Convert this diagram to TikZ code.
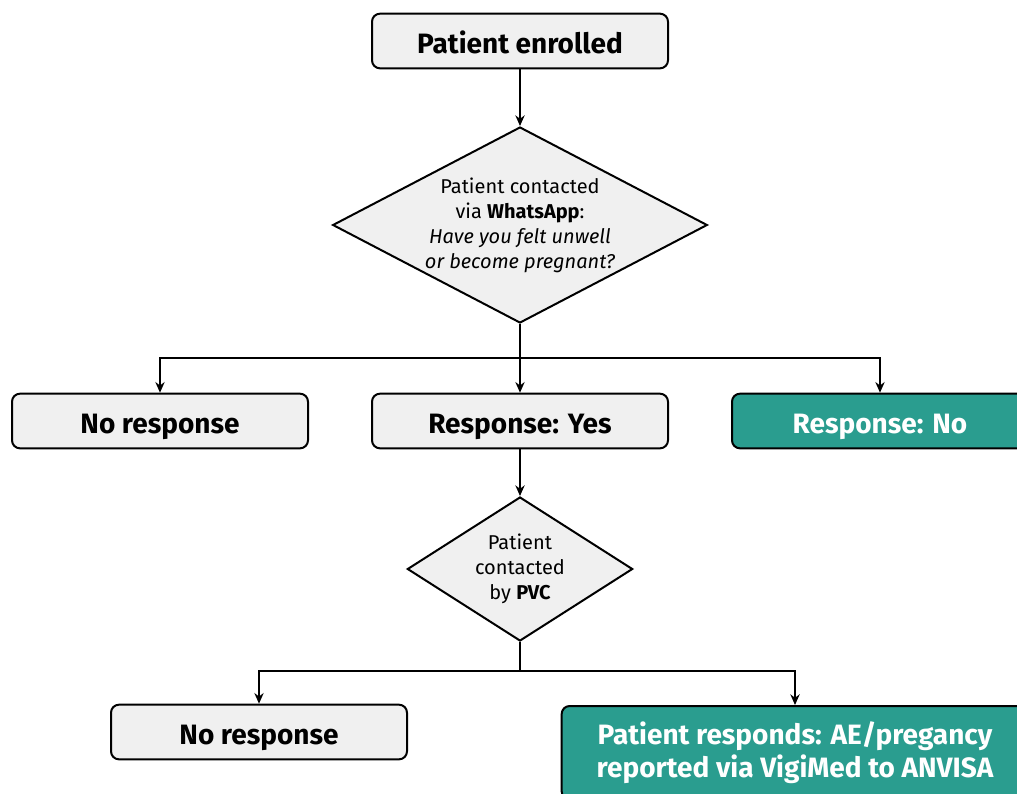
\documentclass[tikz,border=0pt]{standalone}
\usepackage{fontspec}
\setmainfont{Fira Sans}
\usetikzlibrary{shapes.geometric,arrows.meta}
\definecolor{boxgray}{HTML}{F0F0F0}
\definecolor{teal}{HTML}{2A9D8F}

\begin{document}
\begin{tikzpicture}[
  x=0.75pt, y=-0.75pt,
  every node/.style={font=\fontsize{21}{25}\selectfont\bfseries, align=center},
  stepbox/.style={draw=black, line width=1.5pt, rounded corners=6pt, fill=boxgray,
    minimum width=222pt, minimum height=41pt, inner sep=2pt},
  onerow/.style={text height=21pt, text depth=3pt},
  endbox/.style={stepbox, fill=teal, text=white},
  query/.style={diamond, draw=black, line width=1.5pt, fill=boxgray, inner sep=0pt,
    font=\fontsize{15}{18.75}\selectfont},
  link/.style={line width=1.1pt, -{Stealth[length=8pt,width=7pt]}}
]
\useasboundingbox (0,0) rectangle (1017,793);
% first contact
\node[stepbox, onerow] (enrolled) at (520,41) {Patient enrolled};
\node[query, aspect=1.9, minimum width=281pt, minimum height=147pt] (whatsapp) at (520,225)
  {Patient contacted\\ via \textbf{WhatsApp}:\\ \textit{Have you felt unwell}\\ \textit{or become pregnant?}};
\node[stepbox, onerow] (noresA) at (160,421) {No response};
\node[stepbox, onerow] (yes) at (520,421) {Response: Yes};
\node[endbox, onerow] (no) at (880,421) {Response: No};
% second contact
\node[query, aspect=1.56, minimum width=169pt, minimum height=108pt] (pvc) at (520,569)
  {Patient\\ contacted\\ by \textbf{PVC}};
\node[stepbox, onerow] (noresB) at (259,732) {No response};
\node[endbox, minimum width=350pt, minimum height=70pt, anchor=north] (reported) at (795,705)
  {Patient responds: AE/pregancy\\ reported via VigiMed to ANVISA};
\coordinate (splitA) at (520,358);
\coordinate (splitB) at (520,671);

\draw[link] (enrolled) -- (whatsapp);
\draw[line width=1.1pt] (whatsapp.south) -- (splitA);
\draw[link] (splitA) -| (noresA);
\draw[link] (splitA) -- (yes);
\draw[link] (splitA) -| (no);
\draw[link] (yes) -- (pvc);
\draw[line width=1.1pt] (pvc.south) -- (splitB);
\draw[link] (splitB) -| (noresB);
\draw[link] (splitB) -| (reported);
\end{tikzpicture}
\end{document}
